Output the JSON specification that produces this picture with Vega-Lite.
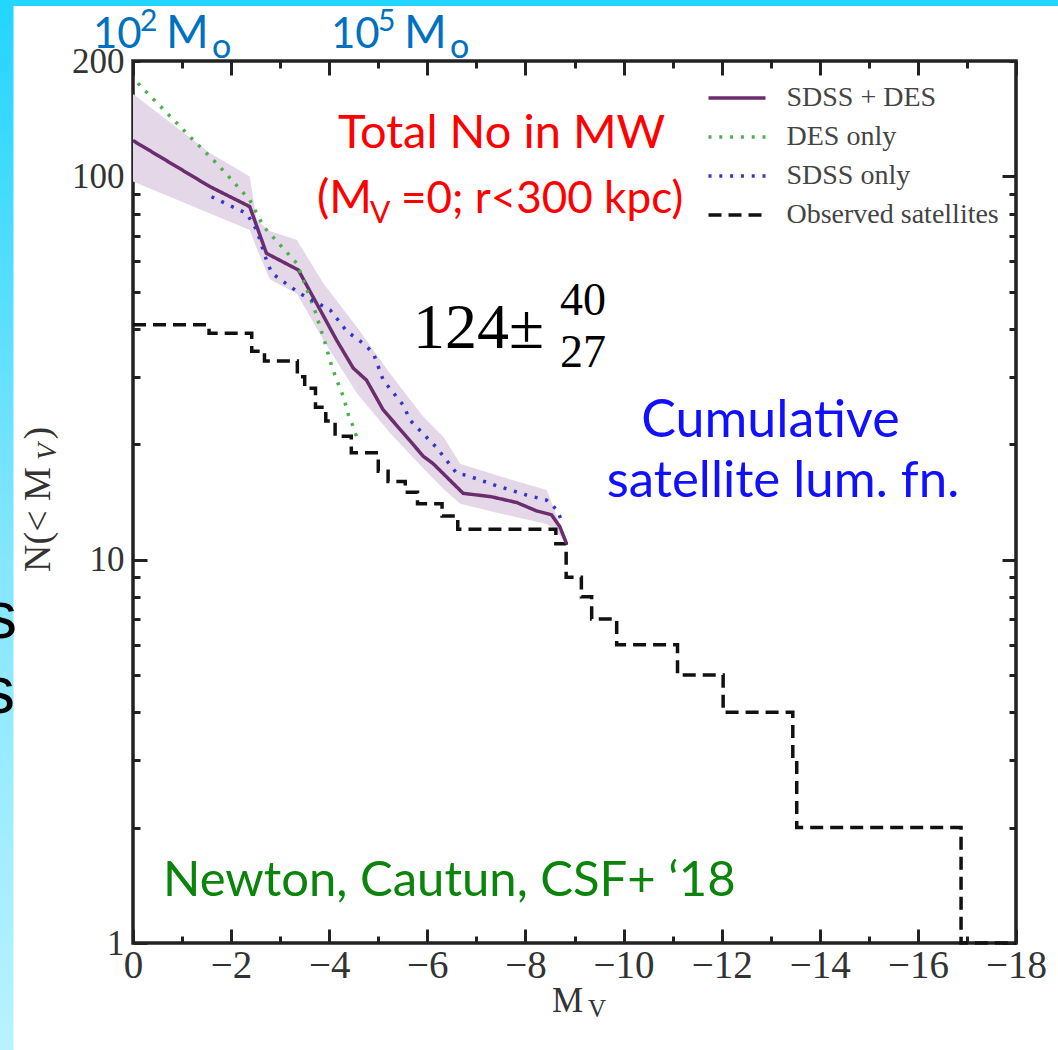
{
  "$schema": "https://vega.github.io/schema/vega-lite/v6.json",
  "width": 883,
  "height": 882,
  "autosize": {"type": "none"},
  "padding": {"left": 133, "top": 61, "right": 42, "bottom": 107},
  "background": "white",
  "config": {
    "view": {"stroke": "#222222", "strokeWidth": 3.5},
    "axis": {"domain": false, "grid": false, "tickColor": "#222222", "tickWidth": 3, "labelFont": "Liberation Serif", "labelColor": "#333333", "zindex": 1, "labelFlush": false, "labelOverlap": false, "labelBound": false},
    "legend": {"orient": "none", "legendX": 573.5, "legendY": 17.5, "symbolType": "stroke", "symbolSize": 3249, "symbolStrokeWidth": 3.5, "labelFont": "Liberation Serif", "labelFontSize": 28, "labelColor": "#444444", "labelOffset": 19, "clipHeight": 39, "rowPadding": 0, "padding": 0, "labelLimit": 400}
  },
  "datasets": {
    "one": [{}],
    "curves": [
      {"series": "SDSS + DES", "Mv": 0, "N": 124},
      {"series": "SDSS + DES", "Mv": -1.57, "N": 94},
      {"series": "SDSS + DES", "Mv": -2.38, "N": 83.4},
      {"series": "SDSS + DES", "Mv": -2.72, "N": 63},
      {"series": "SDSS + DES", "Mv": -3.37, "N": 57},
      {"series": "SDSS + DES", "Mv": -3.74, "N": 46.7},
      {"series": "SDSS + DES", "Mv": -4.15, "N": 37.4},
      {"series": "SDSS + DES", "Mv": -4.49, "N": 31.6},
      {"series": "SDSS + DES", "Mv": -4.76, "N": 29.4},
      {"series": "SDSS + DES", "Mv": -5.1, "N": 24.6},
      {"series": "SDSS + DES", "Mv": -5.51, "N": 21.4},
      {"series": "SDSS + DES", "Mv": -5.92, "N": 18.6},
      {"series": "SDSS + DES", "Mv": -6.12, "N": 17.8},
      {"series": "SDSS + DES", "Mv": -6.73, "N": 14.9},
      {"series": "SDSS + DES", "Mv": -7.3, "N": 14.6},
      {"series": "SDSS + DES", "Mv": -7.82, "N": 14.1},
      {"series": "SDSS + DES", "Mv": -8.23, "N": 13.4},
      {"series": "SDSS + DES", "Mv": -8.53, "N": 13.1},
      {"series": "SDSS + DES", "Mv": -8.7, "N": 12.2},
      {"series": "SDSS + DES", "Mv": -8.84, "N": 11},
      {"series": "DES only", "Mv": -0.1, "N": 175},
      {"series": "DES only", "Mv": -1.16, "N": 127},
      {"series": "DES only", "Mv": -1.71, "N": 108},
      {"series": "DES only", "Mv": -2.38, "N": 86.8},
      {"series": "DES only", "Mv": -2.66, "N": 74},
      {"series": "DES only", "Mv": -3.34, "N": 59.3},
      {"series": "DES only", "Mv": -3.7, "N": 45},
      {"series": "DES only", "Mv": -3.91, "N": 37},
      {"series": "DES only", "Mv": -4.05, "N": 32},
      {"series": "DES only", "Mv": -4.19, "N": 28.6},
      {"series": "DES only", "Mv": -4.29, "N": 26.6},
      {"series": "DES only", "Mv": -4.39, "N": 23.9},
      {"series": "DES only", "Mv": -4.49, "N": 22.2},
      {"series": "DES only", "Mv": -4.56, "N": 20.9},
      {"series": "SDSS only", "Mv": -1.6, "N": 88.5},
      {"series": "SDSS only", "Mv": -2.32, "N": 80},
      {"series": "SDSS only", "Mv": -2.52, "N": 72.5},
      {"series": "SDSS only", "Mv": -2.72, "N": 60.5},
      {"series": "SDSS only", "Mv": -2.83, "N": 55.9},
      {"series": "SDSS only", "Mv": -3.4, "N": 49.5},
      {"series": "SDSS only", "Mv": -4.02, "N": 44.8},
      {"series": "SDSS only", "Mv": -4.36, "N": 39.4},
      {"series": "SDSS only", "Mv": -4.69, "N": 36.7},
      {"series": "SDSS only", "Mv": -4.9, "N": 34.6},
      {"series": "SDSS only", "Mv": -5.1, "N": 29.4},
      {"series": "SDSS only", "Mv": -5.51, "N": 25.3},
      {"series": "SDSS only", "Mv": -5.65, "N": 23.1},
      {"series": "SDSS only", "Mv": -6.19, "N": 19.6},
      {"series": "SDSS only", "Mv": -6.6, "N": 16.8},
      {"series": "SDSS only", "Mv": -6.8, "N": 16.6},
      {"series": "SDSS only", "Mv": -7.41, "N": 15.6},
      {"series": "SDSS only", "Mv": -8.02, "N": 14.75},
      {"series": "SDSS only", "Mv": -8.43, "N": 14.3},
      {"series": "SDSS only", "Mv": -8.64, "N": 13.5},
      {"series": "SDSS only", "Mv": -8.72, "N": 12.8}
    ],
    "band": [
      {"Mv": 0, "lo": 97, "hi": 164},
      {"Mv": -1.57, "lo": 80, "hi": 115},
      {"Mv": -2.38, "lo": 72.5, "hi": 100},
      {"Mv": -2.52, "lo": 65, "hi": 77},
      {"Mv": -2.79, "lo": 53.8, "hi": 72},
      {"Mv": -3.34, "lo": 49.5, "hi": 68.2},
      {"Mv": -3.88, "lo": 37.4, "hi": 52.6},
      {"Mv": -4.56, "lo": 27.2, "hi": 40.5},
      {"Mv": -5.24, "lo": 21.4, "hi": 30.6},
      {"Mv": -5.92, "lo": 17.3, "hi": 23.6},
      {"Mv": -6.33, "lo": 15.3, "hi": 20.9},
      {"Mv": -6.67, "lo": 14.0, "hi": 17.8},
      {"Mv": -7.48, "lo": 13.2, "hi": 16.5},
      {"Mv": -8.43, "lo": 12.4, "hi": 15.2},
      {"Mv": -8.57, "lo": 12.1, "hi": 13.7},
      {"Mv": -8.84, "lo": 11, "hi": 11}
    ],
    "observed": [
      {"series": "Observed satellites", "Mv": 0, "N": 41},
      {"series": "Observed satellites", "Mv": -1.55, "N": 39},
      {"series": "Observed satellites", "Mv": -2.42, "N": 35},
      {"series": "Observed satellites", "Mv": -2.68, "N": 33},
      {"series": "Observed satellites", "Mv": -3.35, "N": 30},
      {"series": "Observed satellites", "Mv": -3.5, "N": 28},
      {"series": "Observed satellites", "Mv": -3.72, "N": 25},
      {"series": "Observed satellites", "Mv": -3.93, "N": 23},
      {"series": "Observed satellites", "Mv": -4.12, "N": 21},
      {"series": "Observed satellites", "Mv": -4.45, "N": 19},
      {"series": "Observed satellites", "Mv": -5.0, "N": 17},
      {"series": "Observed satellites", "Mv": -5.2, "N": 16},
      {"series": "Observed satellites", "Mv": -5.55, "N": 15},
      {"series": "Observed satellites", "Mv": -5.8, "N": 14},
      {"series": "Observed satellites", "Mv": -6.3, "N": 13},
      {"series": "Observed satellites", "Mv": -6.62, "N": 12},
      {"series": "Observed satellites", "Mv": -8.62, "N": 11},
      {"series": "Observed satellites", "Mv": -8.83, "N": 9},
      {"series": "Observed satellites", "Mv": -9.14, "N": 8},
      {"series": "Observed satellites", "Mv": -9.35, "N": 7},
      {"series": "Observed satellites", "Mv": -9.86, "N": 6},
      {"series": "Observed satellites", "Mv": -11.1, "N": 5},
      {"series": "Observed satellites", "Mv": -12.03, "N": 4},
      {"series": "Observed satellites", "Mv": -13.45, "N": 3},
      {"series": "Observed satellites", "Mv": -13.53, "N": 2},
      {"series": "Observed satellites", "Mv": -16.88, "N": 1},
      {"series": "Observed satellites", "Mv": -18, "N": 1}
    ]
  },
  "resolve": {"axis": {"x": "independent", "y": "independent"}},
  "layer": [
    {
      "data": {"name": "one"},
      "mark": {"type": "rect", "strokeWidth": 0, "fill": {"gradient": "linear", "x1": 0, "y1": 0, "x2": 0, "y2": 1, "stops": [{"offset": 0, "color": "#22d5ff"}, {"offset": 0.5, "color": "#80e5ff"}, {"offset": 1, "color": "#b8f2ff"}]}},
      "encoding": {
        "x": {"datum": 2.75, "type": "quantitative", "axis": null},
        "x2": {"datum": 2.436},
        "y": {"datum": 288.5, "type": "quantitative", "axis": null},
        "y2": {"datum": 0.526}
      }
    },
    {
      "data": {"name": "one"},
      "mark": {"type": "rect", "strokeWidth": 0, "fill": "#22d6ff"},
      "encoding": {
        "x": {"datum": 2.8, "type": "quantitative", "axis": null},
        "x2": {"datum": -19.6},
        "y": {"datum": 300, "type": "quantitative", "axis": null},
        "y2": {"datum": 278.4}
      }
    },
    {
      "data": {"name": "band"},
      "mark": {"type": "area", "fill": "#e4d8e8", "opacity": 1},
      "encoding": {
        "x": {"field": "Mv", "type": "quantitative",
              "scale": {"type": "linear", "domain": [0, -18], "nice": false, "zero": false},
              "axis": {"orient": "bottom", "title": null, "values": [0, -2, -4, -6, -8, -10, -12, -14, -16, -18], "tickSize": -14, "labelFontSize": 39, "labelPadding": 17, "labelExpr": "datum.value == 0 ? '0' : '\u2212' + (-datum.value)"}},
        "y": {"field": "lo", "type": "quantitative",
              "scale": {"type": "log", "domain": [1, 200], "nice": false},
              "axis": {"orient": "left", "title": null, "values": [1, 10, 100], "tickSize": -14, "labelFontSize": 35, "labelPadding": 23, "labelExpr": "'' + datum.value"}},
        "y2": {"field": "hi"}
      }
    },
    {
      "data": {"name": "observed"},
      "mark": {"type": "line", "interpolate": "step-after", "strokeWidth": 3.5},
      "encoding": {
        "x": {"field": "Mv", "type": "quantitative",
              "axis": {"orient": "top", "title": null, "values": [0, -2, -4, -6, -8, -10, -12, -14, -16, -18], "tickSize": -14, "labels": false}},
        "y": {"field": "N", "type": "quantitative",
              "axis": {"orient": "right", "title": null, "values": [1, 10, 100], "tickSize": -14, "labels": false}},
        "order": {"field": "Mv", "sort": "descending"},
        "color": {"field": "series", "type": "nominal", "legend": {"title": null},
                  "scale": {"domain": ["SDSS + DES", "DES only", "SDSS only", "Observed satellites"], "range": ["#6c2d6f", "#4caf50", "#3434c8", "#111111"]}},
        "strokeDash": {"field": "series", "type": "nominal", "legend": {"title": null},
                  "scale": {"domain": ["SDSS + DES", "DES only", "SDSS only", "Observed satellites"], "range": [[1, 0], [3, 7.8], [3, 7.8], [13, 7]]}}
      }
    },
    {
      "data": {"name": "curves"},
      "mark": {"type": "line", "strokeWidth": 3.5},
      "encoding": {
        "x": {"field": "Mv", "type": "quantitative",
              "axis": {"orient": "bottom", "title": null, "values": [-1, -3, -5, -7, -9, -11, -13, -15, -17], "tickSize": -7, "labels": false}},
        "y": {"field": "N", "type": "quantitative",
              "axis": {"orient": "left", "title": null, "values": [2, 3, 4, 5, 6, 7, 8, 9, 20, 30, 40, 50, 60, 70, 80, 90, 200], "tickSize": -7, "labelFontSize": 35, "labelPadding": 16, "labelExpr": "datum.value == 200 ? '200' : ''"}},
        "color": {"field": "series", "type": "nominal", "legend": {"title": null}},
        "strokeDash": {"field": "series", "type": "nominal", "legend": {"title": null}}
      }
    },
    {
      "data": {"name": "one"},
      "mark": {"type": "text", "text": "Newton, Cautun, CSF+ \u201818", "align": "left", "baseline": "alphabetic", "font": "Lato", "fontSize": 49, "color": "#0a840a"},
      "encoding": {
        "x": {"datum": -0.6115, "type": "quantitative",
              "axis": {"orient": "top", "title": null, "values": [-1, -3, -5, -7, -9, -11, -13, -15, -17], "tickSize": -7, "labels": false}},
        "y": {"datum": 1.3265, "type": "quantitative",
              "axis": {"orient": "right", "title": null, "values": [2, 3, 4, 5, 6, 7, 8, 9, 20, 30, 40, 50, 60, 70, 80, 90, 200], "tickSize": -7, "labels": false}}
      }
    },
    {
      "data": {"name": "one"},
      "mark": {"type": "text", "text": "10", "align": "left", "baseline": "alphabetic", "font": "Lato", "fontSize": 42, "color": "#0070c0"},
      "encoding": {"x": {"datum": 0.816, "type": "quantitative", "axis": null}, "y": {"datum": 216.3, "type": "quantitative", "axis": null}}
    },
    {
      "data": {"name": "one"},
      "mark": {"type": "text", "text": "2", "align": "left", "baseline": "alphabetic", "font": "Lato", "fontSize": 30, "color": "#0070c0"},
      "encoding": {"x": {"datum": -0.143, "type": "quantitative", "axis": null}, "y": {"datum": 239.5, "type": "quantitative", "axis": null}}
    },
    {
      "data": {"name": "one"},
      "mark": {"type": "text", "text": "M", "align": "left", "baseline": "alphabetic", "font": "Lato", "fontSize": 46, "color": "#0070c0"},
      "encoding": {"x": {"datum": -0.6727, "type": "quantitative", "axis": null}, "y": {"datum": 216.3, "type": "quantitative", "axis": null}}
    },
    {
      "data": {"name": "one"},
      "mark": {"type": "text", "text": "o", "align": "left", "baseline": "alphabetic", "font": "Lato", "fontSize": 34, "color": "#0070c0"},
      "encoding": {"x": {"datum": -1.61, "type": "quantitative", "axis": null}, "y": {"datum": 203.7, "type": "quantitative", "axis": null}}
    },
    {
      "data": {"name": "one"},
      "mark": {"type": "text", "text": "10", "align": "left", "baseline": "alphabetic", "font": "Lato", "fontSize": 42, "color": "#0070c0"},
      "encoding": {"x": {"datum": -4.036, "type": "quantitative", "axis": null}, "y": {"datum": 216.3, "type": "quantitative", "axis": null}}
    },
    {
      "data": {"name": "one"},
      "mark": {"type": "text", "text": "5", "align": "left", "baseline": "alphabetic", "font": "Lato", "fontSize": 30, "color": "#0070c0"},
      "encoding": {"x": {"datum": -4.994, "type": "quantitative", "axis": null}, "y": {"datum": 239.5, "type": "quantitative", "axis": null}}
    },
    {
      "data": {"name": "one"},
      "mark": {"type": "text", "text": "M", "align": "left", "baseline": "alphabetic", "font": "Lato", "fontSize": 46, "color": "#0070c0"},
      "encoding": {"x": {"datum": -5.524, "type": "quantitative", "axis": null}, "y": {"datum": 216.3, "type": "quantitative", "axis": null}}
    },
    {
      "data": {"name": "one"},
      "mark": {"type": "text", "text": "o", "align": "left", "baseline": "alphabetic", "font": "Lato", "fontSize": 34, "color": "#0070c0"},
      "encoding": {"x": {"datum": -6.461, "type": "quantitative", "axis": null}, "y": {"datum": 203.7, "type": "quantitative", "axis": null}}
    },
    {
      "data": {"name": "one"},
      "mark": {"type": "text", "text": "Total No in MW", "align": "left", "baseline": "alphabetic", "font": "Lato", "fontSize": 47, "color": "#ff0000"},
      "encoding": {"x": {"datum": -4.179, "type": "quantitative", "axis": null}, "y": {"datum": 118.6, "type": "quantitative", "axis": null}}
    },
    {
      "data": {"name": "one"},
      "mark": {"type": "text", "text": "(M", "align": "left", "baseline": "alphabetic", "font": "Lato", "fontSize": 46, "color": "#ff0000"},
      "encoding": {"x": {"datum": -3.751, "type": "quantitative", "axis": null}, "y": {"datum": 80.27, "type": "quantitative", "axis": null}}
    },
    {
      "data": {"name": "one"},
      "mark": {"type": "text", "text": "V", "align": "left", "baseline": "alphabetic", "font": "Lato", "fontSize": 30, "color": "#ff0000"},
      "encoding": {"x": {"datum": -4.831, "type": "quantitative", "axis": null}, "y": {"datum": 75.58, "type": "quantitative", "axis": null}}
    },
    {
      "data": {"name": "one"},
      "mark": {"type": "text", "text": "=0; r<300 kpc)", "align": "left", "baseline": "alphabetic", "font": "Lato", "fontSize": 44, "color": "#ff0000"},
      "encoding": {"x": {"datum": -5.462, "type": "quantitative", "axis": null}, "y": {"datum": 80.27, "type": "quantitative", "axis": null}}
    },
    {
      "data": {"name": "one"},
      "mark": {"type": "text", "text": "124\u00b1", "align": "left", "baseline": "alphabetic", "font": "Liberation Serif", "fontSize": 64, "color": "#000000"},
      "encoding": {"x": {"datum": -5.707, "type": "quantitative", "axis": null}, "y": {"datum": 35.67, "type": "quantitative", "axis": null}}
    },
    {
      "data": {"name": "one"},
      "mark": {"type": "text", "text": "40", "align": "left", "baseline": "alphabetic", "font": "Liberation Serif", "fontSize": 46, "color": "#000000"},
      "encoding": {"x": {"datum": -8.704, "type": "quantitative", "axis": null}, "y": {"datum": 43.5, "type": "quantitative", "axis": null}}
    },
    {
      "data": {"name": "one"},
      "mark": {"type": "text", "text": "27", "align": "left", "baseline": "alphabetic", "font": "Liberation Serif", "fontSize": 46, "color": "#000000"},
      "encoding": {"x": {"datum": -8.704, "type": "quantitative", "axis": null}, "y": {"datum": 31.82, "type": "quantitative", "axis": null}}
    },
    {
      "data": {"name": "one"},
      "mark": {"type": "text", "text": "Cumulative", "align": "center", "baseline": "alphabetic", "font": "Lato", "fontSize": 52, "color": "#1010ff"},
      "encoding": {"x": {"datum": -12.994, "type": "quantitative", "axis": null}, "y": {"datum": 20.9, "type": "quantitative", "axis": null}}
    },
    {
      "data": {"name": "one"},
      "mark": {"type": "text", "text": "satellite lum. fn.", "align": "center", "baseline": "alphabetic", "font": "Lato", "fontSize": 51, "color": "#1010ff"},
      "encoding": {"x": {"datum": -13.249, "type": "quantitative", "axis": null}, "y": {"datum": 14.57, "type": "quantitative", "axis": null}}
    },
    {
      "data": {"name": "one"},
      "mark": {"type": "text", "text": "s", "align": "right", "baseline": "alphabetic", "font": "Liberation Sans", "fontSize": 66, "color": "#000000"},
      "encoding": {"x": {"datum": 2.364, "type": "quantitative", "axis": null}, "y": {"datum": 6.25, "type": "quantitative", "axis": null}}
    },
    {
      "data": {"name": "one"},
      "mark": {"type": "text", "text": "s", "align": "right", "baseline": "alphabetic", "font": "Liberation Sans", "fontSize": 66, "color": "#000000"},
      "encoding": {"x": {"datum": 2.405, "type": "quantitative", "axis": null}, "y": {"datum": 3.98, "type": "quantitative", "axis": null}}
    },
    {
      "data": {"name": "one"},
      "mark": {"type": "text", "text": "M", "align": "left", "baseline": "alphabetic", "font": "Liberation Serif", "fontSize": 35, "color": "#333333"},
      "encoding": {"x": {"datum": -8.541, "type": "quantitative", "axis": null}, "y": {"datum": 0.6607, "type": "quantitative", "axis": null}}
    },
    {
      "data": {"name": "one"},
      "mark": {"type": "text", "text": "V", "align": "left", "baseline": "alphabetic", "font": "Liberation Serif", "fontSize": 25, "color": "#333333"},
      "encoding": {"x": {"datum": -9.275, "type": "quantitative", "axis": null}, "y": {"datum": 0.641, "type": "quantitative", "axis": null}}
    },
    {
      "data": {"name": "one"},
      "mark": {"type": "text", "text": "N(< M", "angle": 270, "align": "left", "baseline": "alphabetic", "font": "Liberation Serif", "fontSize": 38, "color": "#333333"},
      "encoding": {"x": {"datum": 1.692, "type": "quantitative", "axis": null}, "y": {"datum": 9.29, "type": "quantitative", "axis": null}}
    },
    {
      "data": {"name": "one"},
      "mark": {"type": "text", "text": "V", "angle": 270, "align": "left", "baseline": "alphabetic", "font": "Liberation Serif", "fontStyle": "italic", "fontSize": 27, "color": "#333333"},
      "encoding": {"x": {"datum": 1.5695, "type": "quantitative", "axis": null}, "y": {"datum": 18.2, "type": "quantitative", "axis": null}}
    },
    {
      "data": {"name": "one"},
      "mark": {"type": "text", "text": ")", "angle": 270, "align": "left", "baseline": "alphabetic", "font": "Liberation Serif", "fontSize": 38, "color": "#333333"},
      "encoding": {"x": {"datum": 1.692, "type": "quantitative", "axis": null}, "y": {"datum": 20.6, "type": "quantitative", "axis": null}}
    }
  ]
}
